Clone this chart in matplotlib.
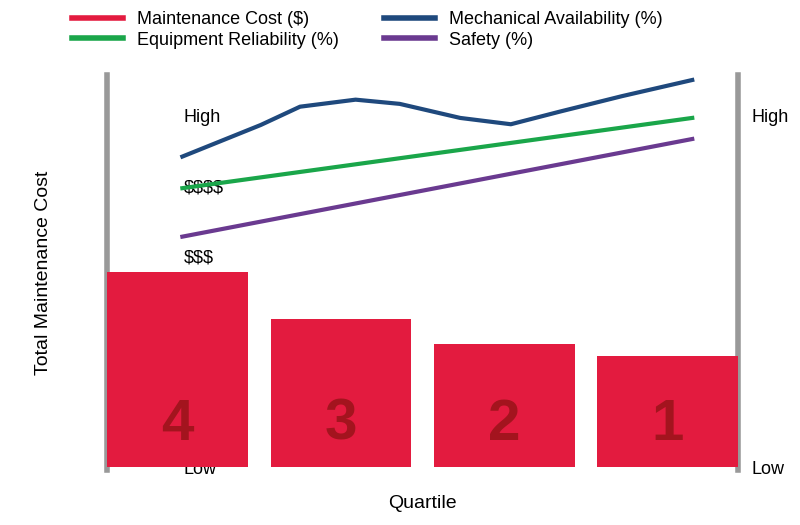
import matplotlib
matplotlib.use("Agg")
import matplotlib.pyplot as plt
from matplotlib.lines import Line2D

quartiles = ["4", "3", "2", "1"]
cost = [2.78, 2.11, 1.75, 1.58]
tick_labels = ["Low", "$", "$$", "$$$", "$$$$", "High"]
line_x = [0.03, 3.15]
reliability = [3.97, 4.97]
safety = [3.28, 4.67]
avail_x = [0.03, 0.51, 0.75, 1.09, 1.36, 1.73, 2.04, 2.34, 2.72, 3.15]
avail_y = [4.42, 4.87, 5.13, 5.23, 5.17, 4.97, 4.88, 5.06, 5.28, 5.51]

RED, BLUE, GREEN, PURPLE = "#E31B3F", "#1F497D", "#1AA64A", "#6A3A90"
plt.rcParams['font.family'] = ['Liberation Sans', 'DejaVu Sans']
plt.rcParams['text.parse_math'] = False

fig = plt.figure(figsize=(8, 5.25), dpi=100)
ax = fig.add_axes([0.134, 0.105, 0.7885, 0.752])
x = range(len(quartiles))
ax.bar(x, cost, width=0.86, color=RED, zorder=3)
for i, q in enumerate(quartiles):
    ax.text(i, 0.6, q, ha="center", va="center", fontsize=42, fontweight="bold",
            color="#A3141E", zorder=4)
ax.plot(line_x, reliability, color=GREEN, lw=3, zorder=3)
ax.plot(line_x, safety, color=PURPLE, lw=3, zorder=3)
ax.plot(avail_x, avail_y, color=BLUE, lw=3, zorder=3)
ax.set_xlim(-0.43, 3.43)
ax.set_ylim(-0.04, 5.58)
for s in ["top", "bottom"]:
    ax.spines[s].set_visible(False)
for s in ["left", "right"]:
    ax.spines[s].set_color("#999999")
    ax.spines[s].set_linewidth(4)
ax.set_xticks([])
ax.set_yticks(range(6))
ax.set_yticklabels(tick_labels, fontsize=13)
ax.tick_params(axis="y", length=0, pad=-55)
for t in ax.get_yticklabels():
    t.set_ha("left")
ax.set_ylabel("Total Maintenance Cost", fontsize=14, labelpad=40)
ax.set_xlabel("Quartile", fontsize=14, labelpad=18)
ax2 = ax.twinx()
ax2.set_ylim(ax.get_ylim())
ax2.set_yticks([0, 5])
ax2.set_yticklabels(["Low", "High"], fontsize=13)
ax2.tick_params(axis="y", length=0, pad=10)
for s in ax2.spines.values():
    s.set_visible(False)
ax2.set_ylabel("Performance Scale (%)", fontsize=14, labelpad=12)

handles = [Line2D([], [], color=RED, lw=4), Line2D([], [], color=GREEN, lw=4),
           Line2D([], [], color=BLUE, lw=4), Line2D([], [], color=PURPLE, lw=4)]
labels = ["Maintenance Cost ($)", "Equipment Reliability (%)",
          "Mechanical Availability (%)", "Safety (%)"]
fig.legend(handles, labels, ncol=2, loc="upper left", bbox_to_anchor=(0.07, 1.01),
           frameon=False, fontsize=13, handlelength=2.8, columnspacing=2.5,
           labelspacing=0.2)
fig.savefig("out.png", dpi=100)
